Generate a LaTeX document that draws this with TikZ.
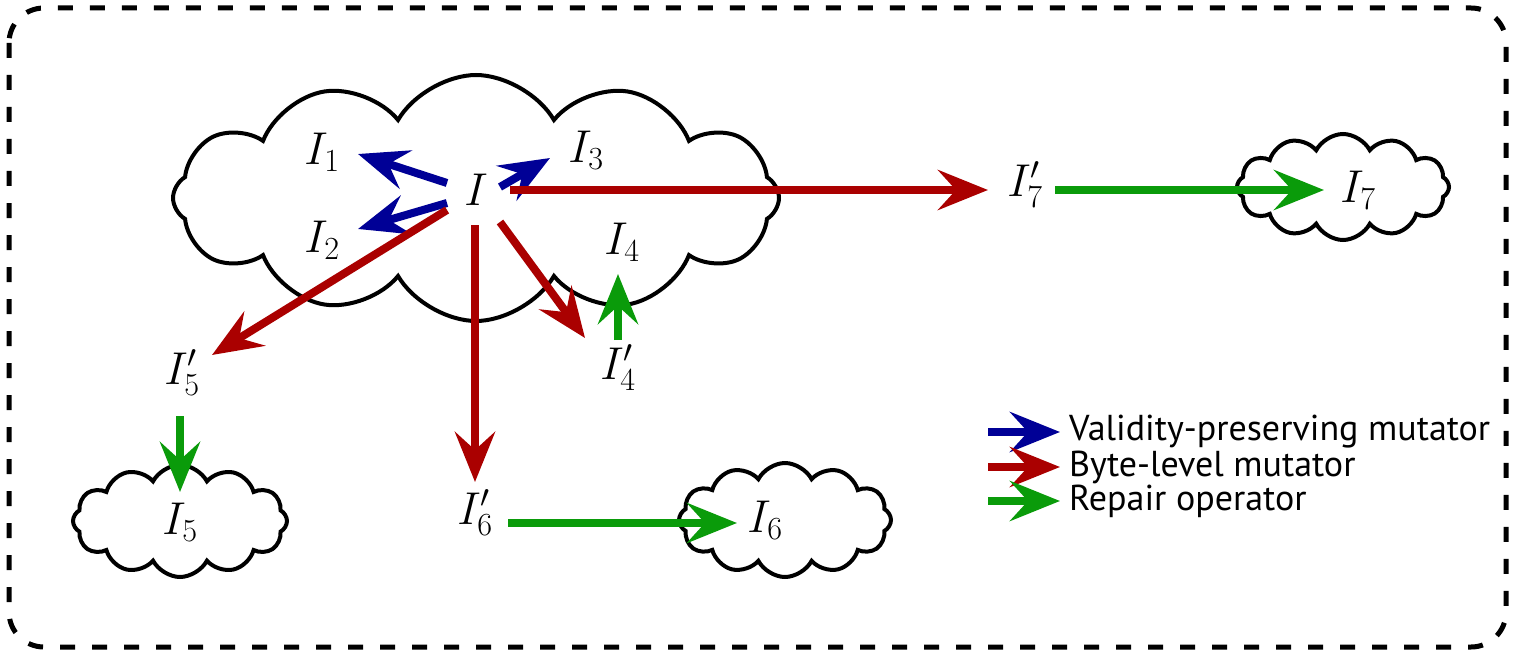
\documentclass[tikz,border=0pt]{standalone}
\usepackage{fix-cm}
\usepackage{fontspec}
\newfontfamily\legendfont{PT Sans}
\usetikzlibrary{arrows.meta,shapes.symbols}
\definecolor{vpblue}{RGB}{0,0,150}
\definecolor{blred}{RGB}{170,0,0}
\definecolor{rpgreen}{RGB}{10,155,10}
\tikzset{
  puff/.style={cloud, draw=black, line width=4pt, fill=white, inner sep=0pt},
  lbl/.style={font=\fontsize{46}{52}\selectfont, inner sep=2pt},
  arr/.style={line width=8pt, -{Stealth[length=50pt,width=40pt,inset=18pt]}},
  valid/.style={arr, draw=vpblue},
  byte/.style={arr, draw=blred},
  repair/.style={arr, draw=rpgreen},
  frame/.style={draw=black, line width=5pt, dash pattern=on 15pt off 17pt, rounded corners=35pt},
  legtxt/.style={font=\legendfont\fontsize{36}{40}\selectfont, anchor=west, inner sep=0pt}
}
\begin{document}
\begin{tikzpicture}[x=1pt,y=-1pt]
\useasboundingbox (0,0) rectangle (1514,655);
\draw[frame] (9,8) rectangle (1506,647);

% clouds
\node[puff, cloud puffs=12, cloud puff arc=120, minimum width=606pt, minimum height=246pt] (big) at (476,198) {};
\node[puff, cloud puffs=12, cloud puff arc=125, minimum width=212pt, minimum height=106pt] (c7) at (1343,187) {};
\node[puff, cloud puffs=12, cloud puff arc=125, minimum width=212pt, minimum height=114pt] (c6) at (785,520) {};
\node[puff, cloud puffs=12, cloud puff arc=125, minimum width=214pt, minimum height=112pt] (c5) at (180,521) {};

% labels
\node[lbl] (I)  at (476,190) {$I$};
\node[lbl] (I1) at (322,152) {$I_1$};
\node[lbl] (I2) at (322,240) {$I_2$};
\node[lbl] (I3) at (586,150) {$I_3$};
\node[lbl] (I4) at (622,242) {$I_4$};
\node[lbl] (I7p) at (1025,185) {$I'_7$};
\node[lbl] (I7) at (1358,190) {$I_7$};
\node[lbl] (I5p) at (182,373) {$I'_5$};
\node[lbl] (I5) at (180,522) {$I_5$};
\node[lbl] (I4p) at (618,368) {$I'_4$};
\node[lbl] (I6p) at (475,513) {$I'_6$};
\node[lbl] (I6) at (765,520) {$I_6$};

% end points of the mutation arrows
\coordinate (sL1) at (447,183);
\coordinate (sL2) at (447,203);
\coordinate (sR3) at (500,187);
\coordinate (sR7) at (510,190);
\coordinate (sL5) at (447,210);
\coordinate (sD6) at (475,225);
\coordinate (sR4) at (500,222);
\coordinate (t1) at (358,154);
\coordinate (t2) at (358,229);
\coordinate (t3) at (550,158);
\coordinate (t7) at (988,190);
\coordinate (t5) at (212,355);
\coordinate (t6) at (475,482);
\coordinate (t4) at (585,338);

\draw[valid] (sL1) -- (t1);
\draw[valid] (sL2) -- (t2);
\draw[valid] (sR3) -- (t3);
\draw[byte] (sR7) -- (t7);
\draw[byte] (sL5) -- (t5);
\draw[byte] (sD6) -- (t6);
\draw[byte] (sR4) -- (t4);

% repair arrows
\coordinate (r4s) at (618,340);
\coordinate (r4t) at (618,274);
\coordinate (r5s) at (180,416);
\coordinate (r5t) at (180,492);
\coordinate (r6s) at (508,523);
\coordinate (r6t) at (737,523);
\coordinate (r7s) at (1055,190);
\coordinate (r7t) at (1324,190);
\draw[repair] (r4s) -- (r4t);
\draw[repair] (r5s) -- (r5t);
\draw[repair] (r6s) -- (r6t);
\draw[repair] (r7s) -- (r7t);

% legend
\coordinate (la) at (988,432);
\coordinate (lb) at (1060,432);
\coordinate (lc) at (988,467);
\coordinate (ld) at (1060,467);
\coordinate (le) at (988,501);
\coordinate (lf) at (1060,501);
\draw[valid] (la) -- (lb);
\draw[byte] (lc) -- (ld);
\draw[repair] (le) -- (lf);
\node[legtxt] (L1) at (1069,432) {Validity-preserving mutator};
\node[legtxt] (L2) at (1069,467) {Byte-level mutator};
\node[legtxt] (L3) at (1069,501) {Repair operator};
\end{tikzpicture}
\end{document}
